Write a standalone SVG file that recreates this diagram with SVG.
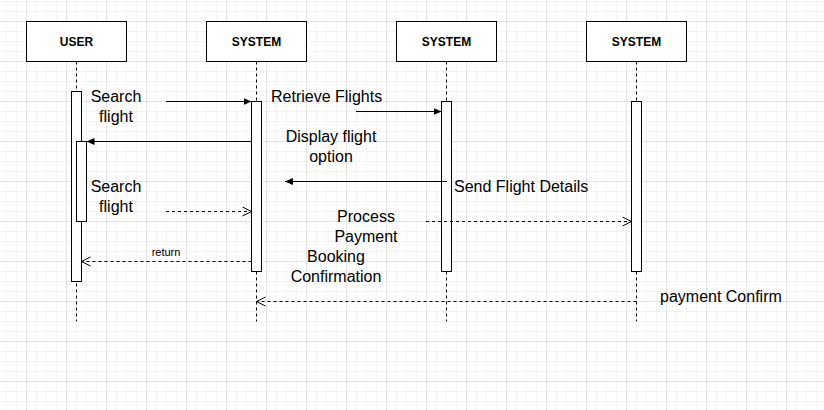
<svg xmlns="http://www.w3.org/2000/svg" width="824" height="410" viewBox="0 0 824 410">
  <style>
    .box { fill: #ffffff; stroke: #000000; stroke-width: 1; }
    .bar { fill: #ffffff; stroke: #000000; stroke-width: 1; }
    .life { fill: none; stroke: #000000; stroke-width: 1; stroke-dasharray: 3 3; }
    .msg { fill: none; stroke: #000000; stroke-width: 1; }
    .dash { fill: none; stroke: #000000; stroke-width: 1; stroke-dasharray: 3 3; }
    .title { font-family: "Liberation Sans", Arial, sans-serif; font-size: 12px; font-weight: bold; fill: #000000; text-anchor: middle; }
    .lbl { font-family: "Liberation Sans", Arial, sans-serif; font-size: 16px; fill: #000000; }
    .mid { text-anchor: middle; }
    .small { font-family: "Liberation Sans", Arial, sans-serif; font-size: 11px; fill: #000000; text-anchor: middle; }
  </style>
  <defs>
    <pattern id="minor" patternUnits="userSpaceOnUse" x="6" y="1" width="10" height="10">
      <path d="M0.5 0 V10 M0 0.5 H10" fill="none" stroke="#f3f3f3" stroke-width="1"/>
    </pattern>
    <pattern id="major" patternUnits="userSpaceOnUse" x="26" y="21" width="40" height="40">
      <path d="M0.5 0 V40 M0 0.5 H40" fill="none" stroke="#e2e2e2" stroke-width="1"/>
    </pattern>
    <marker id="block" markerUnits="userSpaceOnUse" markerWidth="9" markerHeight="8" refX="8" refY="3.5" orient="auto">
      <path d="M0,0 L8,3.5 L0,7 z" fill="#000000"/>
    </marker>
    <marker id="open" markerUnits="userSpaceOnUse" markerWidth="11" markerHeight="11" refX="9.5" refY="5" orient="auto">
      <path d="M0.5,0.5 L9.5,5 L0.5,9.5" fill="none" stroke="#000000" stroke-width="1"/>
    </marker>
  </defs>

  <rect x="0" y="0" width="824" height="410" fill="#ffffff"/>
  <rect x="0" y="0" width="824" height="410" fill="url(#minor)"/>
  <rect x="0" y="0" width="824" height="410" fill="url(#major)"/>

  <g id="user">
    <line class="life" x1="76.5" y1="61.5" x2="76.5" y2="321.5"/>
    <rect class="box" x="26.5" y="21.5" width="100" height="40"/>
    <text class="title" x="76.5" y="45.7">USER</text>
    <rect class="bar" x="71.5" y="91.5" width="10" height="190"/>
    <rect class="bar" x="76.5" y="141.5" width="10" height="80"/>
  </g>

  <g id="system1">
    <line class="life" x1="256.5" y1="61.5" x2="256.5" y2="321.5"/>
    <rect class="box" x="206.5" y="21.5" width="100" height="40"/>
    <text class="title" x="256.5" y="45.7">SYSTEM</text>
    <rect class="bar" x="251.5" y="101.5" width="10" height="170"/>
  </g>

  <g id="system2">
    <line class="life" x1="446.5" y1="61.5" x2="446.5" y2="321.5"/>
    <rect class="box" x="396.5" y="21.5" width="100" height="40"/>
    <text class="title" x="446.5" y="45.7">SYSTEM</text>
    <rect class="bar" x="441.5" y="101.5" width="10" height="170"/>
  </g>

  <g id="system3">
    <line class="life" x1="636.5" y1="61.5" x2="636.5" y2="321.5"/>
    <rect class="box" x="586.5" y="21.5" width="100" height="40"/>
    <text class="title" x="636.5" y="45.7">SYSTEM</text>
    <rect class="bar" x="631.5" y="101.5" width="10" height="170"/>
  </g>

  <g id="connectors">
    <line class="msg" x1="166" y1="101.5" x2="251.5" y2="101.5" marker-end="url(#block)"/>
    <line class="msg" x1="356" y1="111.5" x2="441.5" y2="111.5" marker-end="url(#block)"/>
    <line class="msg" x1="251.5" y1="141.5" x2="86.5" y2="141.5" marker-end="url(#block)"/>
    <line class="msg" x1="447" y1="181.5" x2="285" y2="181.5" marker-end="url(#block)"/>
    <line class="dash" x1="166" y1="211.5" x2="251.5" y2="211.5" marker-end="url(#open)"/>
    <line class="dash" x1="426" y1="221.5" x2="631.5" y2="221.5" marker-end="url(#open)"/>
    <line class="dash" x1="251.5" y1="261.5" x2="81.5" y2="261.5" marker-end="url(#open)"/>
    <line class="dash" x1="636.5" y1="301.5" x2="256.5" y2="301.5" marker-end="url(#open)"/>

    <text class="lbl mid" x="116" y="101.5">Search</text>
    <text class="lbl mid" x="116" y="121.5">flight</text>
    <text class="lbl" x="271" y="101.5">Retrieve Flights</text>
    <text class="lbl mid" x="331" y="141.5">Display flight</text>
    <text class="lbl mid" x="331" y="161.5">option</text>
    <text class="lbl" x="454" y="191.5">Send Flight Details</text>
    <text class="lbl mid" x="116" y="191.5">Search</text>
    <text class="lbl mid" x="116" y="211.5">flight</text>
    <text class="lbl mid" x="366" y="221.5">Process</text>
    <text class="lbl mid" x="366" y="241.5">Payment</text>
    <text class="small" x="166" y="256">return</text>
    <text class="lbl mid" x="336" y="261.5">Booking</text>
    <text class="lbl mid" x="336" y="281.5">Confirmation</text>
    <text class="lbl" x="660" y="301.5">payment Confirm</text>
  </g>
</svg>
